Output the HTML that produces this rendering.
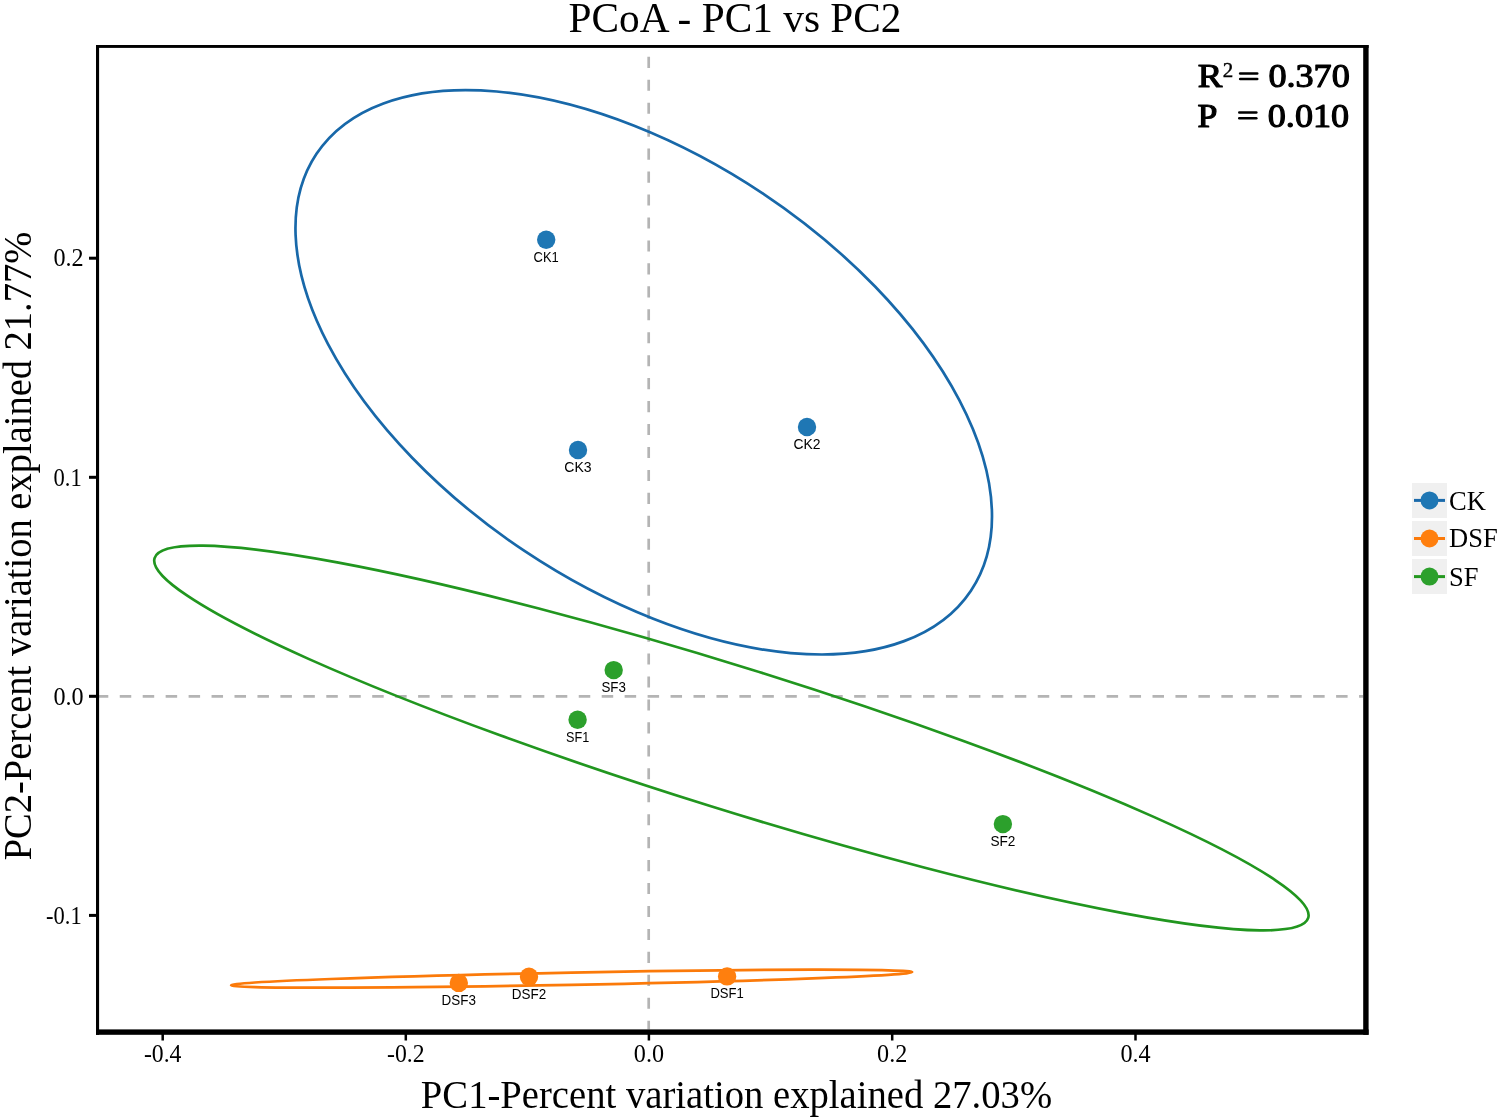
<!DOCTYPE html>
<html><head><meta charset="utf-8"><style>
html,body{margin:0;padding:0;background:#fff;width:1499px;height:1119px;overflow:hidden}
svg{display:block;will-change:transform}
.serif{font-family:"Liberation Serif",serif}
.sans{font-family:"Liberation Sans",sans-serif}
</style></head><body>
<svg width="1499" height="1119" viewBox="0 0 1499 1119">
<defs><clipPath id="pc"><rect x="99" y="48" width="1264.2" height="981.4"/></clipPath></defs>
<rect x="0" y="0" width="1499" height="1119" fill="#fff"/>
<g clip-path="url(#pc)">
<line x1="96.8" y1="696.3" x2="1363" y2="696.3" stroke="#b4b4b4" stroke-width="2.7" stroke-dasharray="11.5 11.45"/>
<line x1="648.7" y1="33.85" x2="648.7" y2="1032" stroke="#b4b4b4" stroke-width="2.7" stroke-dasharray="11.1 11.85"/>
<ellipse cx="643.73" cy="372.27" rx="393.42" ry="214.82" transform="rotate(-146.273 643.73 372.27)" fill="none" stroke="#1868a9" stroke-width="2.7"/>
<ellipse cx="731.40" cy="738.00" rx="604.23" ry="71.28" transform="rotate(-162.674 731.40 738.00)" fill="none" stroke="#21961f" stroke-width="2.7"/>
<ellipse cx="571.63" cy="978.67" rx="340.63" ry="6.13" transform="rotate(178.896 571.63 978.67)" fill="none" stroke="#fb7a0a" stroke-width="2.7"/>
<circle cx="546.2" cy="239.8" r="9.2" fill="#1f77b4"/>
<circle cx="807.0" cy="427.0" r="9.2" fill="#1f77b4"/>
<circle cx="578.0" cy="450.0" r="9.2" fill="#1f77b4"/>
<circle cx="613.7" cy="670.1" r="9.2" fill="#2ca02c"/>
<circle cx="577.6" cy="719.8" r="9.2" fill="#2ca02c"/>
<circle cx="1002.9" cy="824.1" r="9.2" fill="#2ca02c"/>
<circle cx="458.8" cy="982.9" r="9.2" fill="#ff7f0e"/>
<circle cx="529.0" cy="976.7" r="9.2" fill="#ff7f0e"/>
<circle cx="727.1" cy="976.4" r="9.2" fill="#ff7f0e"/>
<g class="sans" font-size="15.5" fill="#000">
<text x="546.2" y="261.6" text-anchor="middle" textLength="25.2" lengthAdjust="spacingAndGlyphs">CK1</text>
<text x="807.0" y="448.8" text-anchor="middle" textLength="27.0" lengthAdjust="spacingAndGlyphs">CK2</text>
<text x="578.0" y="471.8" text-anchor="middle" textLength="27.3" lengthAdjust="spacingAndGlyphs">CK3</text>
<text x="613.7" y="691.9" text-anchor="middle" textLength="24.5" lengthAdjust="spacingAndGlyphs">SF3</text>
<text x="577.6" y="741.6" text-anchor="middle" textLength="23.2" lengthAdjust="spacingAndGlyphs">SF1</text>
<text x="1002.9" y="845.9" text-anchor="middle" textLength="25.0" lengthAdjust="spacingAndGlyphs">SF2</text>
<text x="458.8" y="1004.7" text-anchor="middle" textLength="34.400000000000006" lengthAdjust="spacingAndGlyphs">DSF3</text>
<text x="529.0" y="998.5" text-anchor="middle" textLength="34.400000000000006" lengthAdjust="spacingAndGlyphs">DSF2</text>
<text x="727.1" y="998.2" text-anchor="middle" textLength="33.4" lengthAdjust="spacingAndGlyphs">DSF1</text>
</g>
</g>
<rect x="96" y="45" width="3.1" height="989.8" fill="#000"/>
<rect x="96" y="45" width="1272.6" height="2.9" fill="#000"/>
<rect x="1363.2" y="45" width="5.4" height="989.8" fill="#000"/>
<rect x="96" y="1029.4" width="1272.6" height="5.4" fill="#000"/>
<rect x="89" y="256.7" width="8" height="3" fill="#000"/>
<rect x="89" y="475.8" width="8" height="3" fill="#000"/>
<rect x="89" y="694.8" width="8" height="3" fill="#000"/>
<rect x="89" y="913.9" width="8" height="3" fill="#000"/>
<rect x="161.45" y="1033" width="2.5" height="7.5" fill="#000"/>
<rect x="404.55" y="1033" width="2.5" height="7.5" fill="#000"/>
<rect x="647.65" y="1033" width="2.5" height="7.5" fill="#000"/>
<rect x="890.95" y="1033" width="2.5" height="7.5" fill="#000"/>
<rect x="1134.25" y="1033" width="2.5" height="7.5" fill="#000"/>
<g class="serif" font-size="24.2" fill="#000">
<text x="83.7" y="266.4" text-anchor="end" textLength="30.2" lengthAdjust="spacingAndGlyphs">0.2</text>
<text x="81.7" y="485.5" text-anchor="end" textLength="28.2" lengthAdjust="spacingAndGlyphs">0.1</text>
<text x="83.7" y="704.5" text-anchor="end" textLength="30.2" lengthAdjust="spacingAndGlyphs">0.0</text>
<text x="81.7" y="923.6" text-anchor="end" textLength="35.6" lengthAdjust="spacingAndGlyphs">-0.1</text>
<text x="162.7" y="1061.5" text-anchor="middle" textLength="37.6" lengthAdjust="spacingAndGlyphs">-0.4</text>
<text x="405.8" y="1061.5" text-anchor="middle" textLength="37.6" lengthAdjust="spacingAndGlyphs">-0.2</text>
<text x="648.9" y="1061.5" text-anchor="middle" textLength="30.2" lengthAdjust="spacingAndGlyphs">0.0</text>
<text x="892.2" y="1061.5" text-anchor="middle" textLength="30.2" lengthAdjust="spacingAndGlyphs">0.2</text>
<text x="1135.5" y="1061.5" text-anchor="middle" textLength="30.2" lengthAdjust="spacingAndGlyphs">0.4</text>
</g>
<text class="serif" x="735" y="32.0" font-size="42" text-anchor="middle" textLength="333" lengthAdjust="spacingAndGlyphs">PCoA - PC1 vs PC2</text>
<text class="serif" x="736.5" y="1107.8" font-size="39.5" text-anchor="middle" textLength="631.3" lengthAdjust="spacingAndGlyphs">PC1-Percent variation explained 27.03%</text>
<text class="serif" transform="translate(31.0 546.0) rotate(-90)" x="0" y="0" font-size="39.5" text-anchor="middle" textLength="628.6" lengthAdjust="spacingAndGlyphs">PC2-Percent variation explained 21.77%</text>
<g class="serif" fill="#000">
<g stroke="#000" stroke-width="1.2" stroke-linejoin="round">
<text x="1197.8" y="87.4" font-size="34.5" textLength="24.6" lengthAdjust="spacingAndGlyphs">R</text>
<text x="1197.6" y="126.7" font-size="34.5" textLength="19.9" lengthAdjust="spacingAndGlyphs">P</text>
<text x="1268.4" y="87.4" font-size="34.5" textLength="81.4" lengthAdjust="spacingAndGlyphs">0.370</text>
<text x="1267.8" y="126.7" font-size="34.5" textLength="81.3" lengthAdjust="spacingAndGlyphs">0.010</text>
</g>
<text x="1222.8" y="76.5" font-size="21" stroke="#000" stroke-width="0.4">2</text>
<line x1="1240.2" y1="73.5" x2="1257.2" y2="73.5" stroke="#000" stroke-width="2.6" stroke-linecap="round"/>
<line x1="1240.2" y1="79.05" x2="1257.2" y2="79.05" stroke="#000" stroke-width="2.6" stroke-linecap="round"/>
<line x1="1239.3" y1="112.55" x2="1256.3" y2="112.55" stroke="#000" stroke-width="2.6" stroke-linecap="round"/>
<line x1="1239.3" y1="118.2" x2="1256.3" y2="118.2" stroke="#000" stroke-width="2.6" stroke-linecap="round"/>
</g>
<g>
<rect x="1412" y="483" width="35" height="35" fill="#f0f0f0"/>
<rect x="1412" y="521" width="35" height="35" fill="#f0f0f0"/>
<rect x="1412" y="559" width="35" height="35" fill="#f0f0f0"/>
<line x1="1414" y1="500.4" x2="1445" y2="500.4" stroke="#1a6aab" stroke-width="3"/>
<line x1="1414" y1="538.5" x2="1445" y2="538.5" stroke="#fb7a0a" stroke-width="3"/>
<line x1="1414" y1="576.6" x2="1445" y2="576.6" stroke="#24981f" stroke-width="3"/>
<circle cx="1429.5" cy="500.4" r="9" fill="#1f77b4"/>
<circle cx="1429.5" cy="538.5" r="9" fill="#ff7f0e"/>
<circle cx="1429.5" cy="576.6" r="9" fill="#2ca02c"/>
<g class="serif" font-size="26.5" fill="#000">
<text x="1449" y="509.6">CK</text>
<text x="1449" y="547.4">DSF</text>
<text x="1449" y="585.6">SF</text>
</g>
</g>
</svg>
</body></html>
